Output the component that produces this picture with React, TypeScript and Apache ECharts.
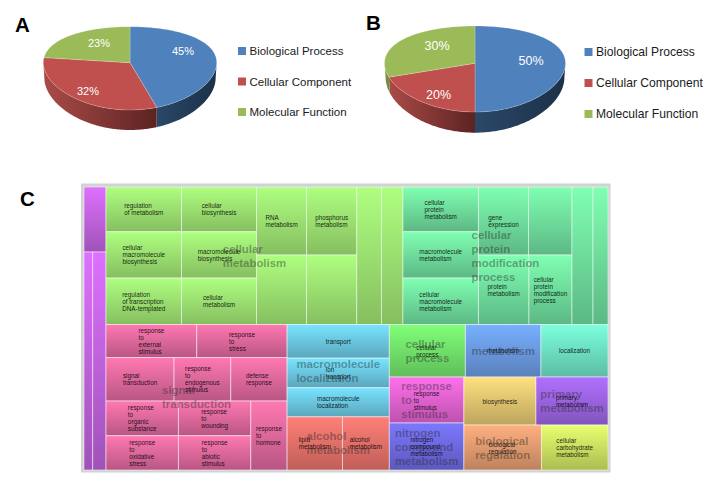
import React, { useEffect, useRef } from "react";
import * as echarts from "echarts";

// ---------- Pie data ----------
const pieCategories = ["Biological Process", "Cellular Component", "Molecular Function"];
const pieAValues = [45, 32, 23];
const pieBValues = [50, 20, 30];
const pieColors = ["#4F81BD", "#C0504D", "#9BBB59"];
const pieWallColors = [
  ["#2A4868", "#1C3048"],
  ["#AA4B48", "#5C2321"],
  ["#7C9546", "#6F863F"],
];
const panelLetters = ["A", "B", "C"];

// ---------- Treemap data ----------
const groupNames = [
  "", "cellular\nmetabolism", "cellular\nprotein\nmodification\nprocess", "signal\ntransduction",
  "macromolecule\nlocalization", "alcohol\nmetabolism", "cellular\nprocess", "metabolism", "",
  "response\nto\nstimulus", "nitrogen\ncompound\nmetabolism", "", "primary\nmetabolism",
  "biological\nregulation", "",
];
const groupTop = [
  "#DE70FF", "#AEFF80", "#80FFB2", "#FF78B2", "#78E4FF", "#FF8078", "#80FF78", "#78B0FF", "#7CFFDC",
  "#FF70EC", "#7C78FF", "#FFE080", "#B070FF", "#FFB080", "#E8FF70",
];
const groupBottom = [
  "#A052B8", "#86BE60", "#5CB884", "#B85684", "#5AA6BC", "#C05E58", "#60BE5A", "#5A80BC", "#5CBCA4",
  "#BC52AE", "#5C58BC", "#BCA45C", "#8254BC", "#BC825C", "#ACBC52",
];
const cellLabels = [
  "", "", "",
  "regulation\nof metabolism", "cellular\nbiosynthesis",
  "cellular\nmacromolecule\nbiosynthesis", "macromolecule\nbiosynthesis",
  "regulation\nof transcription\nDNA-templated", "cellular\nmetabolism",
  "RNA\nmetabolism", "phosphorus\nmetabolism", "", "", "", "",
  "cellular\nprotein\nmetabolism", "macromolecule\nmetabolism", "cellular\nmacromolecule\nmetabolism",
  "gene\nexpression", "", "protein\nmetabolism", "cellular\nprotein\nmodification\nprocess", "", "",
  "response\nto\nexternal\nstimulus", "response\nto\nstress",
  "signal\ntransduction", "response\nto\nendogenous\nstimulus", "defense\nresponse",
  "response\nto\norganic\nsubstance", "response\nto\nwounding",
  "response\nto\noxidative\nstress", "response\nto\nabiotic\nstimulus", "response\nto\nhormone",
  "transport", "ion\ntransport", "macromolecule\nlocalization",
  "lipid\nmetabolism", "alcohol\nmetabolism",
  "cellular\nprocess", "metabolism", "localization",
  "response\nto\nstimulus", "nitrogen\ncompound\nmetabolism",
  "biosynthesis", "primary\nmetabolism", "biological\nregulation", "cellular\ncarbohydrate\nmetabolism",
];
const cellValues = [
  1430, 1897, 2899,
  3375, 3352, 3496, 3472, 3510, 3488,
  3400, 3414, 3475, 3489, 3396, 2956,
  3375, 3496, 3510, 3400, 2958, 3510, 2990, 2888, 2063,
  2993, 2980, 2958, 2466, 2449,
  2512, 2509, 2483, 2480, 2505,
  3434, 3024, 2973, 2942, 2491,
  3990, 3964, 3518, 3427, 3502, 3456, 3456, 3488, 2993,
];
const cellGroups = [
  0, 0, 0,
  1, 1, 1, 1, 1, 1, 1, 1, 1, 1, 1, 1,
  2, 2, 2, 2, 2, 2, 2, 2, 2,
  3, 3, 3, 3, 3, 3, 3, 3, 3, 3,
  4, 4, 4, 5, 5,
  6, 7, 8, 9, 10, 11, 12, 13, 14,
];
// Nesting of the cells by index; direction alternates at each level, starting side by side.
const cellTree: any = [
  [0, [1, 2]],
  [
    [
      [[3, 4], [5, 6], [7, 8]],
      [[9, 10], [11, 12]],
      13, 14,
      [15, 16, 17],
      [[18, 19], [20, 21]],
      22, 23,
    ],
    [
      [[24, 25], [26, 27, 28], [[[29, 30], [31, 32]], 33]],
      [34, 35, 36, [37, 38]],
      [[39, 40, 41], [[42, 43], [[44, 45], [46, 47]]]],
    ],
  ],
];

// ---------- Layout of the drawing ----------
const SANS = '"Liberation Sans", Arial, sans-serif';
const pieShapes = [
  { cx: 130, apex: 62.7, a: 41.65, d: 5.65, rx: 86.7, wallNear: 20, wallFar: 15 },
  { cx: 475, apex: 63.3, a: 43, d: 5.7, rx: 90.5, wallNear: 20.7, wallFar: 14 },
];
const pieLabelAt = [
  [[183, 51], [88, 91], [99, 43]],
  [[531, 61], [438.5, 95], [437, 45.5]],
];
const pieLabelSize = [11, 12.5];

const measureCtx = document.createElement("canvas").getContext("2d")!;
function blockWidth(text: string, font: string) {
  measureCtx.font = font;
  return Math.max(...text.split("\n").map((l) => measureCtx.measureText(l).width));
}

function sumTree(n: any): number {
  return Array.isArray(n) ? n.reduce((s: number, c: any) => s + sumTree(c), 0) : cellValues[n];
}
const cellRects: number[][] = [];
function layoutTree(n: any, x: number, y: number, w: number, h: number, across: boolean) {
  if (!Array.isArray(n)) {
    cellRects[n] = [x, y, x + w, y + h];
    return;
  }
  const total = sumTree(n);
  let at = 0;
  n.forEach((c: any) => {
    const f = sumTree(c) / total;
    if (across) layoutTree(c, x + at * w, y, f * w, h, false);
    else layoutTree(c, x, y + at * h, w, f * h, true);
    at += f;
  });
}
layoutTree(cellTree, 0, 0, 1, 1, true);

function rimPoint(p: any, deg: number) {
  const t = (deg * Math.PI) / 180;
  const v = -Math.cos(t);
  return [p.cx + p.rx * Math.sin(t), p.apex + p.a * v + p.d * v * v, v, Math.sin(t)];
}

function pieSeries(catIndex: number) {
  const rows = [pieAValues, pieBValues].map((vals) => {
    const start = vals.slice(0, catIndex).reduce((a, b) => a + b, 0);
    return [start, vals[catIndex]];
  });
  return {
    type: "custom",
    name: pieCategories[catIndex],
    coordinateSystem: "none",
    itemStyle: { color: pieColors[catIndex] },
    silent: true,
    z: 3,
    data: rows,
    renderItem: (params: any) => {
      const pieIndex = params.dataIndex;
      const p = pieShapes[pieIndex];
      const [start, value] = rows[pieIndex];
      const a0 = start * 3.6;
      const a1 = (start + value) * 3.6;
      const children: any[] = [];
      // wall: only the front part of the rim shows
      const w0 = Math.max(a0, 90);
      const w1 = Math.min(a1, 270);
      if (w1 > w0) {
        const upper: number[][] = [];
        const lower: number[][] = [];
        for (let deg = w0; deg <= w1 + 0.001; deg += Math.min(1, w1 - w0)) {
          const r = rimPoint(p, deg);
          upper.push([r[0], r[1]]);
          const drop = p.wallFar + (p.wallNear - p.wallFar) * Math.max(0, r[2]);
          lower.unshift([p.cx + (r[0] - p.cx) * 0.988, r[1] + drop]);
        }
        const wall = pieWallColors[catIndex];
        children.push({
          type: "polygon",
          shape: { points: upper.concat(lower) },
          style: {
            fill: new echarts.graphic.LinearGradient(0, 0, 1, 0, [
              { offset: 0, color: wall[0] },
              { offset: 1, color: wall[1] },
            ]),
          },
        });
      }
      // top face
      const pts: number[][] = [[p.cx, p.apex]];
      for (let deg = a0; deg <= a1 + 0.001; deg += 1) {
        const r = rimPoint(p, Math.min(deg, a1));
        pts.push([r[0], r[1]]);
      }
      const e = rimPoint(p, a1);
      pts.push([e[0], e[1]]);
      children.push({
        type: "polygon",
        shape: { points: pts },
        style: { fill: pieColors[catIndex], stroke: "rgba(255,255,255,0.35)", lineWidth: 0.6 },
      });
      const at = pieLabelAt[pieIndex][catIndex];
      children.push({
        type: "text",
        x: at[0],
        y: at[1],
        style: {
          text: value + "%",
          fill: "#fff",
          font: `${pieLabelSize[pieIndex]}px ${SANS}`,
          align: "center",
          verticalAlign: "middle",
        },
      });
      return { type: "group", children };
    },
  };
}

function legendAt(left: number, top: number, size: number, gap: number) {
  return {
    data: pieCategories,
    orient: "vertical",
    left,
    top,
    padding: 0,
    icon: "rect",
    itemWidth: 8,
    itemHeight: 8,
    itemGap: gap,
    selectedMode: false,
    textStyle: { fontFamily: SANS, fontSize: size, color: "#1a1a1a", padding: [0, 0, 0, -1.5] },
  };
}

const App = () => {
  const ref = useRef<HTMLDivElement>(null);
  useEffect(() => {
    const chart = echarts.init(ref.current!, null, { renderer: "svg" });
    const cellFont = `6.3px ${SANS}`;
    const groupFont = `bold 11.4px ${SANS}`;
    chart.setOption({
      animation: false,
      backgroundColor: "#fff",
      grid: { left: 84, top: 187, width: 524, height: 283 },
      xAxis: { type: "value", min: 0, max: 1, show: false },
      yAxis: { type: "value", min: 0, max: 1, inverse: true, show: false },
      legend: [legendAt(238, 45, 11.5, 18.5), legendAt(584.5, 46, 12.1, 19)],
      graphic: [
        { type: "rect", shape: { x: 81, y: 183.5, width: 529.5, height: 289 }, style: { fill: "#D2D2D2" } },
        ...panelLetters.map((t, i) => ({
          type: "text",
          x: [15, 366, 20][i],
          y: [14, 12, 188][i],
          style: { text: t, fill: "#000", font: `bold 20.5px ${SANS}` },
        })),
      ],
      series: [
        ...pieCategories.map((_, i) => pieSeries(i)),
        {
          type: "custom",
          name: "cells",
          coordinateSystem: "cartesian2d",
          silent: true,
          z: 3,
          data: cellRects.map((r, i) => [...r, i]),
          encode: { x: [0, 2], y: [1, 3] },
          renderItem: (params: any, api: any) => {
            const i = params.dataIndex;
            const r = cellRects[i];
            const p0 = api.coord([r[0], r[1]]);
            const p1 = api.coord([r[2], r[3]]);
            const g = cellGroups[i];
            const children: any[] = [
              {
                type: "rect",
                shape: { x: p0[0], y: p0[1], width: p1[0] - p0[0], height: p1[1] - p0[1] },
                style: {
                  fill: new echarts.graphic.LinearGradient(0, 0, 0, 1, [
                    { offset: 0, color: groupTop[g] },
                    { offset: 1, color: groupBottom[g] },
                  ]),
                  stroke: "rgba(255,255,255,0.5)",
                  lineWidth: 1,
                },
              },
            ];
            const label = cellLabels[i];
            if (label) {
              children.push({
                type: "text",
                x: (p0[0] + p1[0]) / 2 - blockWidth(label, cellFont) / 2,
                y: (p0[1] + p1[1]) / 2,
                z2: 5,
                style: {
                  text: label,
                  fill: "rgba(0,0,0,0.88)",
                  font: cellFont,
                  lineHeight: 7,
                  align: "left",
                  verticalAlign: "middle",
                },
              });
            }
            return { type: "group", children };
          },
        },
        {
          type: "custom",
          name: "groups",
          coordinateSystem: "cartesian2d",
          silent: true,
          z: 4,
          data: groupNames.map((_, g) => [g]),
          encode: { x: -1, y: -1 },
          renderItem: (params: any, api: any) => {
            const g = params.dataIndex;
            const name = groupNames[g];
            if (!name) return { type: "group", children: [] };
            const rs = cellRects.filter((_, i) => cellGroups[i] === g);
            const p0 = api.coord([Math.min(...rs.map((r) => r[0])), Math.min(...rs.map((r) => r[1]))]);
            const p1 = api.coord([Math.max(...rs.map((r) => r[2])), Math.max(...rs.map((r) => r[3]))]);
            return {
              type: "text",
              x: (p0[0] + p1[0]) / 2 - blockWidth(name, groupFont) / 2,
              y: (p0[1] + p1[1]) / 2,
              style: {
                text: name,
                fill: "rgba(40,40,40,0.42)",
                font: groupFont,
                lineHeight: 14,
                align: "left",
                verticalAlign: "middle",
              },
            };
          },
        },
      ],
    });
    return () => chart.dispose();
  }, []);
  return <div ref={ref} style={{ position: "absolute", left: 0, top: 0, width: 725, height: 483 }} />;
};

export default App;
